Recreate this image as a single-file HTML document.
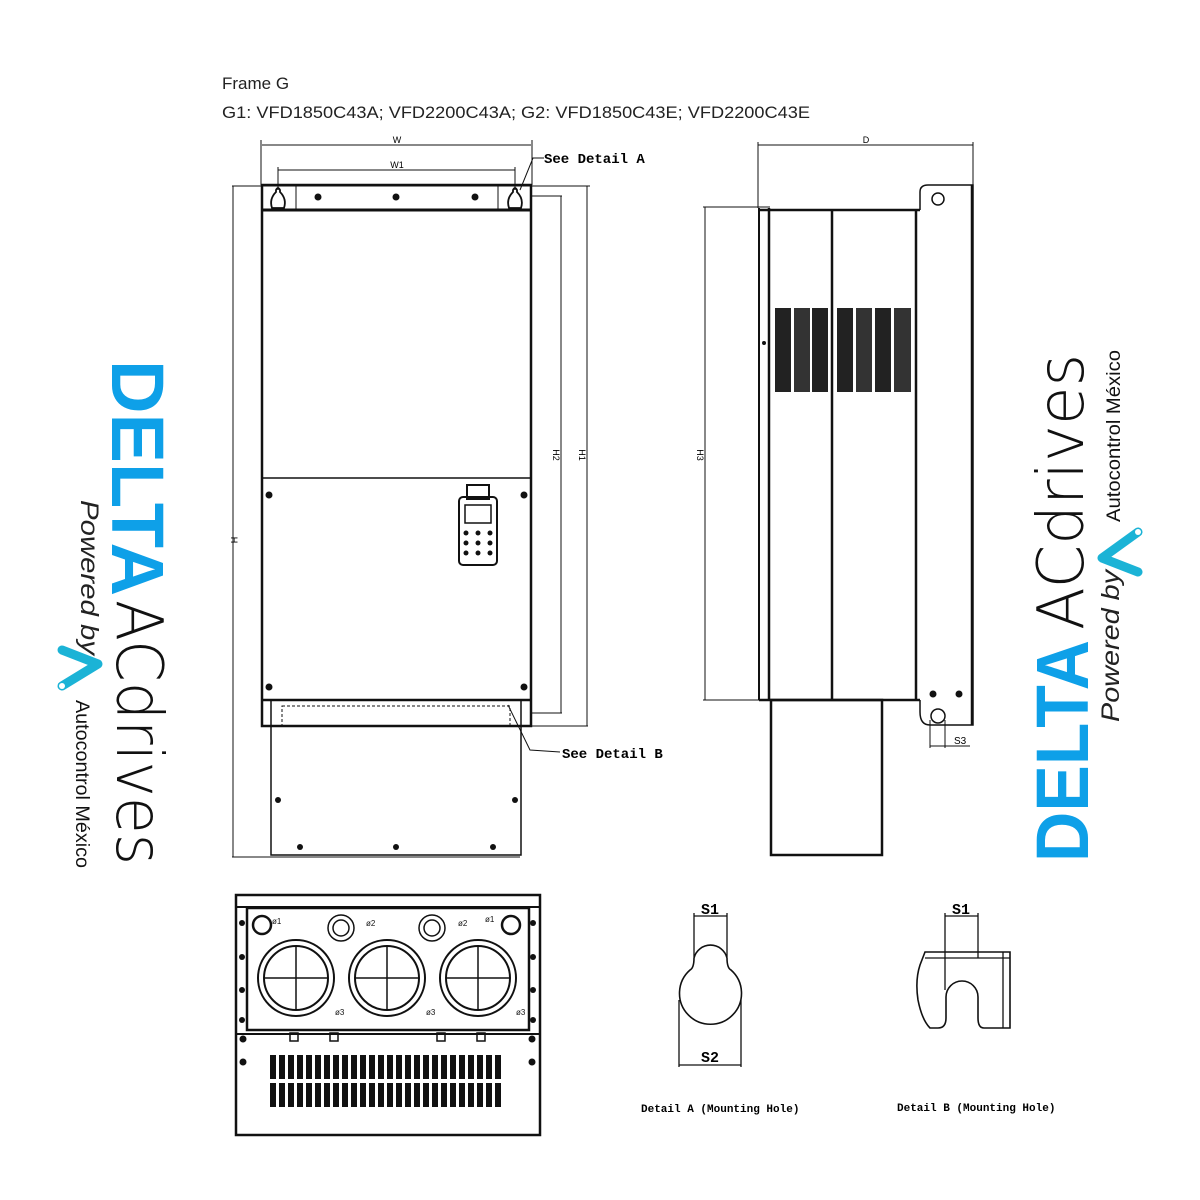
<!DOCTYPE html>
<html><head><meta charset="utf-8"><style>
html,body{margin:0;padding:0;background:#fff;width:1200px;height:1200px;overflow:hidden}
svg{display:block}
.t{font-family:"Liberation Sans",sans-serif}
.m{font-family:"Liberation Mono",monospace;font-weight:bold}
</style></head><body>
<svg width="1200" height="1200" viewBox="0 0 1200 1200" xmlns="http://www.w3.org/2000/svg">
<rect width="1200" height="1200" fill="#fff"/>
<text x="222" y="89" class="t" font-size="17" fill="#222">Frame G</text>
<text x="222" y="118" class="t" font-size="17" fill="#222" textLength="588" lengthAdjust="spacingAndGlyphs">G1: VFD1850C43A; VFD2200C43A; G2: VFD1850C43E; VFD2200C43E</text>

<g stroke="#111" fill="none">
<line x1="262" y1="145" x2="531" y2="145" stroke-width="1"/>
<line x1="261" y1="140" x2="261" y2="185" stroke-width="1"/>
<line x1="532" y1="140" x2="532" y2="185" stroke-width="1"/>
<line x1="278" y1="170" x2="515" y2="170" stroke-width="1"/>
<line x1="278" y1="167" x2="278" y2="190"/>
<line x1="515" y1="167" x2="515" y2="190"/>
<path d="M544 158 L533 158 L520 190" stroke-width="1"/>
<line x1="232" y1="186" x2="590" y2="186"/>
<line x1="233" y1="186" x2="233" y2="857"/>
<line x1="232" y1="857" x2="520" y2="857"/>
<line x1="531" y1="196" x2="562" y2="196"/>
<line x1="561" y1="196" x2="561" y2="713"/>
<line x1="531" y1="713" x2="562" y2="713"/>
<line x1="587" y1="186" x2="587" y2="726"/>
<line x1="531" y1="726" x2="588" y2="726"/>
<rect x="262" y="185" width="269" height="541" stroke-width="2.5"/>
<line x1="262" y1="210" x2="531" y2="210" stroke-width="3"/>
<rect x="296" y="186" width="202" height="23" stroke-width="1"/>
<line x1="262" y1="478" x2="531" y2="478" stroke-width="1.5"/>
<line x1="262" y1="700" x2="531" y2="700" stroke-width="2.5"/>
<rect x="271" y="700" width="250" height="155" stroke-width="1.5"/>
<rect x="282" y="706" width="228" height="20" stroke-width="1" stroke-dasharray="3,2"/>
<path d="M508 705 L530 750 L560 752" stroke-width="1"/>
</g>
<g fill="#111">
<circle cx="318" cy="197" r="3.5"/><circle cx="396" cy="197" r="3.5"/><circle cx="475" cy="197" r="3.5"/>
<circle cx="269" cy="495" r="3.5"/><circle cx="524" cy="495" r="3.5"/>
<circle cx="269" cy="687" r="3.5"/><circle cx="524" cy="687" r="3.5"/>
<circle cx="278" cy="800" r="3"/><circle cx="515" cy="800" r="3"/>
<circle cx="300" cy="847" r="3"/><circle cx="396" cy="847" r="3"/><circle cx="493" cy="847" r="3"/>
</g>
<g stroke="#111" fill="none" stroke-width="1.8">
<path d="M272 208 Q269 199 276 192 L276 190 Q278 186 280 190 L280 192 Q287 199 284 208 Z"/>
<path d="M509 208 Q506 199 513 192 L513 190 Q515 186 517 190 L517 192 Q524 199 521 208 Z"/>
<rect x="459" y="497" width="38" height="68" rx="4" stroke-width="2"/>
<rect x="467" y="485" width="22" height="14" stroke-width="2"/>
<rect x="465" y="505" width="26" height="18" stroke-width="1.5"/>
</g>
<g fill="#111">
<circle cx="466" cy="533" r="2.5"/><circle cx="478" cy="533" r="2.5"/><circle cx="490" cy="533" r="2.5"/>
<circle cx="466" cy="543" r="2.5"/><circle cx="478" cy="543" r="2.5"/><circle cx="490" cy="543" r="2.5"/>
<circle cx="466" cy="553" r="2.5"/><circle cx="478" cy="553" r="2.5"/><circle cx="490" cy="553" r="2.5"/>
</g>
<text x="397" y="143" class="t" font-size="9" text-anchor="middle">W</text>
<text x="397" y="168" class="t" font-size="9" text-anchor="middle">W1</text>
<text x="544" y="163" class="m" font-size="14">See Detail A</text>
<text x="562" y="758" class="m" font-size="14">See Detail B</text>
<text transform="translate(231,540) rotate(90)" class="t" font-size="9" text-anchor="middle">H</text>
<text transform="translate(553,455) rotate(90)" class="t" font-size="9" text-anchor="middle">H2</text>
<text transform="translate(579,455) rotate(90)" class="t" font-size="9" text-anchor="middle">H1</text>

<g stroke="#111" fill="none">
<line x1="758" y1="145" x2="973" y2="145"/>
<line x1="758" y1="142" x2="758" y2="208"/>
<line x1="973" y1="142" x2="973" y2="185"/>
<line x1="703" y1="207" x2="770" y2="207"/>
<line x1="705" y1="207" x2="705" y2="700"/>
<line x1="703" y1="700" x2="770" y2="700"/>
<line x1="759" y1="208" x2="759" y2="700" stroke-width="2"/>
<line x1="769" y1="208" x2="769" y2="700" stroke-width="2.5"/>
<line x1="759" y1="210" x2="920" y2="210" stroke-width="2.5"/>
<line x1="832" y1="210" x2="832" y2="700" stroke-width="2.5"/>
<line x1="916" y1="210" x2="916" y2="700" stroke-width="2.5"/>
<line x1="759" y1="700" x2="920" y2="700" stroke-width="2.5"/>
<path d="M920 210 L920 192 Q920 185 928 185 L973 185 L973 725 L930 725 Q920 725 920 712 L920 700" stroke-width="1.5"/>
<line x1="972" y1="185" x2="972" y2="725" stroke-width="2.5"/>
<circle cx="938" cy="199" r="6" stroke-width="1.5"/>
<circle cx="938" cy="716" r="7" stroke-width="1.5"/>
<line x1="930" y1="720" x2="930" y2="748"/>
<line x1="945" y1="720" x2="945" y2="748"/>
<line x1="930" y1="746" x2="970" y2="746"/>
<rect x="771" y="700" width="111" height="155" stroke-width="2.5"/>
</g>
<text x="866" y="143" class="t" font-size="9" text-anchor="middle">D</text>
<text x="954" y="744" class="t" font-size="10">S3</text>
<text transform="translate(697,455) rotate(90)" class="t" font-size="9" text-anchor="middle">H3</text>
<g fill="#111">
<circle cx="764" cy="343" r="2"/>
<circle cx="933" cy="694" r="3.5"/><circle cx="959" cy="694" r="3.5"/>
<rect x="775" y="308" width="16" height="84" fill="#222"/>
<rect x="794" y="308" width="16" height="84" fill="#333"/>
<rect x="812" y="308" width="16" height="84" fill="#222"/>
<rect x="837" y="308" width="16" height="84" fill="#222"/>
<rect x="856" y="308" width="16" height="84" fill="#333"/>
<rect x="875" y="308" width="16" height="84" fill="#222"/>
<rect x="894" y="308" width="17" height="84" fill="#333"/>
</g>

<g stroke="#111" fill="none">
<rect x="236" y="895" width="304" height="240" stroke-width="2.5"/>
<line x1="236" y1="907" x2="540" y2="907" stroke-width="2"/>
<rect x="247" y="908" width="282" height="122" stroke-width="2.5"/>
<line x1="236" y1="1034" x2="540" y2="1034" stroke-width="2"/>
<g stroke-width="2">
<circle cx="296" cy="978" r="38"/><circle cx="296" cy="978" r="32"/>
<circle cx="387" cy="978" r="38"/><circle cx="387" cy="978" r="32"/>
<circle cx="478" cy="978" r="38"/><circle cx="478" cy="978" r="32"/>
</g>
<g stroke-width="1.5">
<line x1="264" y1="978" x2="328" y2="978"/><line x1="296" y1="946" x2="296" y2="1010"/>
<line x1="355" y1="978" x2="419" y2="978"/><line x1="387" y1="946" x2="387" y2="1010"/>
<line x1="446" y1="978" x2="510" y2="978"/><line x1="478" y1="946" x2="478" y2="1010"/>
<circle cx="262" cy="925" r="9" stroke-width="2.5"/>
<circle cx="511" cy="925" r="9" stroke-width="2.5"/>
<circle cx="341" cy="928" r="13" stroke-width="1.5"/><circle cx="341" cy="928" r="8"/>
<circle cx="432" cy="928" r="13" stroke-width="1.5"/><circle cx="432" cy="928" r="8"/>
</g>
</g>
<g class="t" font-size="8" fill="#111">
<text x="272" y="924">ø1</text><text x="366" y="926">ø2</text><text x="458" y="926">ø2</text><text x="485" y="922">ø1</text>
<text x="335" y="1015">ø3</text><text x="426" y="1015">ø3</text><text x="516" y="1015">ø3</text>
</g>
<g fill="#111">
<circle cx="242" cy="923" r="3"/><circle cx="242" cy="957" r="3"/><circle cx="242" cy="990" r="3"/><circle cx="242" cy="1020" r="3"/>
<circle cx="533" cy="923" r="3"/><circle cx="533" cy="957" r="3"/><circle cx="533" cy="990" r="3"/><circle cx="533" cy="1020" r="3"/>
<circle cx="243" cy="1039" r="3.5"/><circle cx="532" cy="1039" r="3.5"/>
<circle cx="243" cy="1062" r="3.5"/><circle cx="532" cy="1062" r="3.5"/>
</g>
<g fill="none" stroke="#111" stroke-width="1.5">
<rect x="290" y="1033" width="8" height="8"/><rect x="330" y="1033" width="8" height="8"/>
<rect x="437" y="1033" width="8" height="8"/><rect x="477" y="1033" width="8" height="8"/>
</g>
<g fill="#111" id="vents">
<rect x="270" y="1055" width="6" height="24"/><rect x="279" y="1055" width="6" height="24"/><rect x="288" y="1055" width="6" height="24"/><rect x="297" y="1055" width="6" height="24"/><rect x="306" y="1055" width="6" height="24"/><rect x="315" y="1055" width="6" height="24"/><rect x="324" y="1055" width="6" height="24"/><rect x="333" y="1055" width="6" height="24"/><rect x="342" y="1055" width="6" height="24"/><rect x="351" y="1055" width="6" height="24"/><rect x="360" y="1055" width="6" height="24"/><rect x="369" y="1055" width="6" height="24"/><rect x="378" y="1055" width="6" height="24"/><rect x="387" y="1055" width="6" height="24"/><rect x="396" y="1055" width="6" height="24"/><rect x="405" y="1055" width="6" height="24"/><rect x="414" y="1055" width="6" height="24"/><rect x="423" y="1055" width="6" height="24"/><rect x="432" y="1055" width="6" height="24"/><rect x="441" y="1055" width="6" height="24"/><rect x="450" y="1055" width="6" height="24"/><rect x="459" y="1055" width="6" height="24"/><rect x="468" y="1055" width="6" height="24"/><rect x="477" y="1055" width="6" height="24"/><rect x="486" y="1055" width="6" height="24"/><rect x="495" y="1055" width="6" height="24"/>
</g>
<use href="#vents" y="28"/>

<g stroke="#111" fill="none" stroke-width="1.3">
<line x1="694" y1="916" x2="727" y2="916"/>
<line x1="694" y1="913" x2="694" y2="957"/>
<line x1="727" y1="913" x2="727" y2="957"/>
<path d="M694 958 A17 17 0 0 1 727 958 Q727 968 731 970 A31 31 0 1 1 690 970 Q694 968 694 958 Z" stroke-width="1.6"/>
<line x1="679" y1="1000" x2="679" y2="1067"/>
<line x1="741" y1="1000" x2="741" y2="1067"/>
<line x1="679" y1="1065" x2="741" y2="1065"/>
</g>
<text x="710" y="914" class="m" font-size="15" text-anchor="middle" font-weight="normal">S1</text>
<text x="710" y="1062" class="m" font-size="15" text-anchor="middle" font-weight="normal">S2</text>
<text x="641" y="1112" class="m" font-size="11">Detail A (Mounting Hole)</text>
<g stroke="#111" fill="none" stroke-width="1.3">
<line x1="945" y1="916" x2="978" y2="916"/>
<line x1="945" y1="913" x2="945" y2="990"/>
<line x1="978" y1="913" x2="978" y2="958"/>
<path d="M925 952 L1010 952 L1010 1028 L984 1028 Q978 1028 978 1018 L978 997 A16 16 0 0 0 946 997 L946 1018 Q946 1028 938 1028 L930 1028 Q922 1020 918 1000 Q915 980 920 965 Z" stroke-width="1.6"/>
<line x1="925" y1="958" x2="1010" y2="958"/>
<line x1="1003" y1="952" x2="1003" y2="1028"/>
</g>
<text x="961" y="914" class="m" font-size="15" text-anchor="middle" font-weight="normal">S1</text>
<text x="897" y="1111" class="m" font-size="11">Detail B (Mounting Hole)</text>

<text transform="translate(112,360) rotate(90)" class="t" font-size="74" font-weight="bold" fill="#0ea0e8" textLength="236" lengthAdjust="spacingAndGlyphs">DELTA</text>
<text transform="translate(117,600) rotate(90)" font-family="DejaVu Sans,sans-serif" font-size="64" font-weight="200" fill="#111" textLength="265" lengthAdjust="spacingAndGlyphs">ACdrives</text>
<text transform="translate(81,500) rotate(90)" class="t" font-size="25" font-style="italic" fill="#222" textLength="155" lengthAdjust="spacingAndGlyphs">Powered by</text>
<text transform="translate(76,700) rotate(90)" class="t" font-size="19" fill="#111" textLength="168" lengthAdjust="spacingAndGlyphs">Autocontrol México</text>
<polyline points="62,650 98,664 62,686" fill="none" stroke="#1bb3d6" stroke-width="9" stroke-linejoin="round" stroke-linecap="round"/>
<circle cx="62" cy="686" r="3" fill="#fff"/>

<text transform="translate(1088,862) rotate(-90)" class="t" font-size="74" font-weight="bold" fill="#0ea0e8" textLength="222" lengthAdjust="spacingAndGlyphs">DELTA</text>
<text transform="translate(1083,630) rotate(-90)" font-family="DejaVu Sans,sans-serif" font-size="64" font-weight="200" fill="#111" textLength="276" lengthAdjust="spacingAndGlyphs">ACdrives</text>
<text transform="translate(1119,722) rotate(-90)" class="t" font-size="25" font-style="italic" fill="#222" textLength="152" lengthAdjust="spacingAndGlyphs">Powered by</text>
<text transform="translate(1120,522) rotate(-90)" class="t" font-size="19" fill="#111" textLength="172" lengthAdjust="spacingAndGlyphs">Autocontrol México</text>
<polyline points="1138,572 1102,558 1138,532" fill="none" stroke="#1bb3d6" stroke-width="9" stroke-linejoin="round" stroke-linecap="round"/>
<circle cx="1138" cy="532" r="3" fill="#fff"/>
</svg>
</body></html>
